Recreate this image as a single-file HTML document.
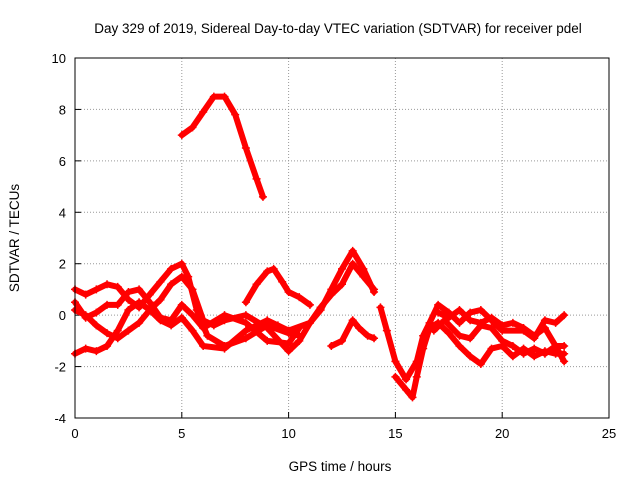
<!DOCTYPE html>
<html><head><meta charset="utf-8"><style>
body{margin:0;background:#fff}
svg{display:block;font-family:"Liberation Sans",sans-serif}
</style></head><body>
<svg id="chart" width="640" height="480">
<rect width="640" height="480" fill="#fff"/>
<text x="338" y="33" font-size="13.5" text-anchor="middle">Day 329 of 2019, Sidereal Day-to-day VTEC variation (SDTVAR) for receiver pdel</text>
<text x="340" y="471" font-size="13.5" text-anchor="middle">GPS time / hours</text>
<text x="19" y="238" font-size="13.5" text-anchor="middle" transform="rotate(-90 19 238)">SDTVAR / TECUs</text>
<g id="grid"></g><g id="ticks"></g><g id="series"></g>
<rect x="75" y="58" width="534" height="360" fill="none" stroke="#000" stroke-width="1"/>
</svg>
<script>
const xTicks=[0,5,10,15,20,25];
const yTicks=[-4,-2,0,2,4,6,8,10];
const s1=[[5.0,7.0],[5.5,7.3],[6.0,7.9],[6.5,8.5],[7.0,8.5],[7.5,7.8],[8.0,6.5],[8.5,5.3],[8.8,4.6]];
const s2=[[0,1.0],[0.5,0.8],[1,1.0],[1.5,1.2],[2,1.1],[2.5,0.6],[3,0.3],[3.5,0.8],[4,1.3],[4.5,1.8],[5,2.0],[5.3,1.5],[5.7,0.2],[6.2,-0.8],[7,-1.2],[8,-0.9],[9,-0.4],[10,-0.7],[10.5,-0.8]];
const s3=[[0,0.2],[0.5,0],[1,-0.4],[1.5,-0.7],[2,-0.9],[2.5,-0.6],[3,-0.3],[3.5,0.2],[4,0.6],[4.5,1.2],[5,1.5],[5.5,1.0],[6,-0.2],[6.5,-0.4],[7,-0.2],[8,0],[9,-0.5],[10,-1.4],[10.5,-1.0],[11,-0.3],[11.5,0.2],[12,1.0],[12.5,1.8],[13,2.5],[13.5,1.8],[14,0.9]];
const s4=[[0,-1.5],[0.5,-1.3],[1,-1.4],[1.5,-1.2],[2,-0.6],[2.5,0.2],[3,0.5],[3.5,0.2],[4,-0.2],[4.5,-0.4],[5,-0.1],[5.5,-0.6],[6,-1.2],[7,-1.3],[8,-0.6],[9,-0.2],[9.5,-0.4],[10,-0.6],[11,-0.3],[11.5,0.3],[12,0.8],[12.5,1.2],[13,2.0],[13.5,1.5],[14,1.0]];
const s5=[[8,0.5],[8.5,1.2],[9,1.7],[9.3,1.8],[9.7,1.3],[10,0.9],[10.5,0.7],[11,0.4]];
const s6=[[0,0.5],[0.5,-0.1],[1,0.1],[1.5,0.4],[2,0.4],[2.5,0.9],[3,1.0],[3.5,0.5],[4,-0.1],[4.5,-0.2],[5,0.4],[5.5,0],[6,-0.5],[7,0],[8,-0.3],[9,-1.0],[10,-1.1],[10.5,-0.5]];
const s7=[[12,-1.2],[12.5,-1.0],[13,-0.2],[13.3,-0.5],[13.7,-0.8],[14,-0.9]];
const s8=[[14.3,0.3],[14.6,-0.6],[15,-1.8],[15.5,-2.5],[16,-1.8],[16.3,-0.8],[16.6,-0.3],[17,0.4],[17.5,0.1],[18,-0.3],[18.5,0.1],[19,0.2],[19.5,-0.2],[20,-0.6],[21,-0.6],[21.5,-0.9],[22,-0.2],[22.5,-0.3],[22.9,0.0]];
const s9=[[15,-2.4],[15.5,-2.9],[15.8,-3.2],[16,-2.4],[16.3,-1.3],[16.6,-0.5],[17,-0.3],[17.5,-0.7],[18,-1.2],[18.5,-1.6],[19,-1.9],[19.5,-1.3],[20,-1.2],[20.5,-1.6],[21,-1.3],[21.5,-1.6],[22,-1.4],[22.5,-1.5],[22.9,-1.5]];
const s10=[[16.8,-0.6],[17.3,-0.2],[18,-0.8],[18.5,-0.9],[19,-0.4],[19.5,-0.5],[20,-1.0],[20.5,-1.2],[21,-1.5],[21.5,-1.3],[22,-1.5],[22.5,-1.2],[22.9,-1.8]];
const s11=[[17,0.1],[17.5,-0.1],[18,0.2],[18.5,-0.2],[19,-0.3],[19.5,-0.1],[20,-0.4],[20.5,-0.3],[21,-0.5],[21.5,-0.8],[22,-0.5],[22.5,-1.2],[22.9,-1.2]];
const allSeries=[s1,s2,s3,s4,s5,s6,s7,s8,s9,s10,s11];
const X0=75,X1=609,Y0=418,Y1=58;
const xs=v=>X0+(v-0)/(25-0)*(X1-X0);
const ys=v=>Y0-(v+4)/(10+4)*(Y0-Y1);
const NS="http://www.w3.org/2000/svg";
function mk(tag,attrs,parent){const e=document.createElementNS(NS,tag);for(const k in attrs)e.setAttribute(k,attrs[k]);parent.appendChild(e);return e;}
const grid=document.getElementById('grid'),ticks=document.getElementById('ticks'),ser=document.getElementById('series');
xTicks.forEach(t=>{const x=xs(t);
 if(t>0&&t<25){const g=mk('line',{x1:x,x2:x,y1:Y1,y2:Y0,stroke:'#999','stroke-dasharray':'1,2','stroke-width':1},grid);
 
 }
 const tk=mk('line',{x1:x,x2:x,y1:Y0,y2:Y0-6,stroke:'#000'},ticks);
 
 
 const l=mk('text',{x:x,y:Y0+20,'font-size':13,'text-anchor':'middle'},ticks);l.textContent=t;
 
 });
yTicks.forEach(t=>{const y=ys(t);
 if(t>-4&&t<10){const g=mk('line',{x1:X0,x2:X1,y1:y,y2:y,stroke:'#999','stroke-dasharray':'1,2','stroke-width':1},grid);
 
 }
 const tk=mk('line',{x1:X0,x2:X0+6,y1:y,y2:y,stroke:'#000'},ticks);
 
 
 const l=mk('text',{x:X0-9,y:y+5,'font-size':13,'text-anchor':'end'},ticks);l.textContent=t;
 
 });
allSeries.forEach((s,i)=>{
 const p=mk('polyline',{points:s.map(d=>xs(d[0])+','+ys(d[1])).join(' '),fill:'none',stroke:'#f00','stroke-width':6,'stroke-linejoin':'round','stroke-linecap':'round'},ser);
 
 
 s.forEach(d=>{const x=xs(d[0]),y=ys(d[1]);
  const m=mk('path',{d:`M${x-4},${y}H${x+4}M${x},${y-4}V${y+4}`,stroke:'#f00','stroke-width':1.5},ser);
  
  });
});
</script>
</body></html>
